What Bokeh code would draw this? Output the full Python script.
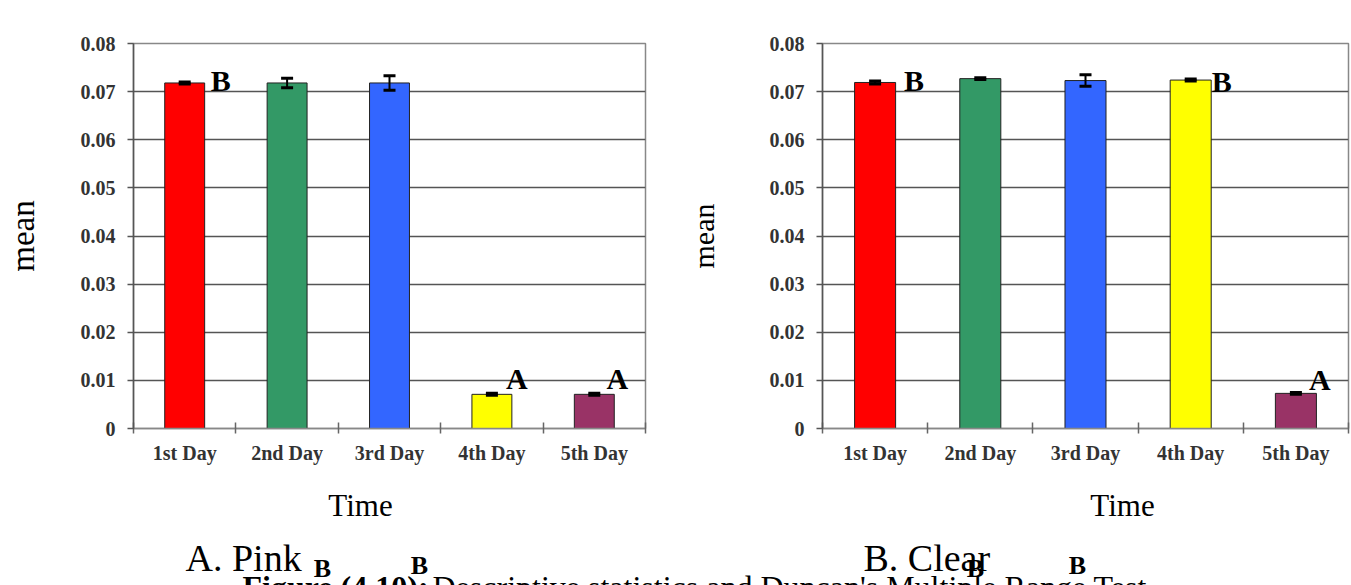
from bokeh.plotting import figure
from bokeh.models import (ColumnDataSource, Range1d, FixedTicker, CustomJSTickFormatter,
                          Whisker, TeeHead, Label)
from bokeh.layouts import column, row
from bokeh.embed import file_html
from bokeh.resources import INLINE
from bokeh.core.properties import value

# ---------------- data ----------------
days = ["1st Day", "2nd Day", "3rd Day", "4th Day", "5th Day"]
bar_colors = ["#FF0000", "#339966", "#3366FF", "#FFFF00", "#993366"]

pink_mean = [0.0718, 0.0718, 0.0718, 0.0071, 0.0071]
pink_err = [0.0002, 0.0010, 0.0015, 0.0002, 0.0002]
pink_letters = ["B", "", "", "A", "A"]

clear_mean = [0.0719, 0.0727, 0.0723, 0.0724, 0.0073]
clear_err = [0.0003, 0.0002, 0.0012, 0.0002, 0.0002]
clear_letters = ["B", "", "", "B", "A"]

y_ticks = [0.0, 0.01, 0.02, 0.03, 0.04, 0.05, 0.06, 0.07, 0.08]
y_label = "mean"
x_label = "Time"
panel_titles = ["A. Pink", "B. Clear"]
caption_bold = "Figure (4.10):"
caption_text = "Descriptive statistics and Duncan's Multiple Range Test"

# ---------------- layout / style constants ----------------
SERIF = value("Liberation Serif")
FIG_H = 472

# letter pixel offsets relative to bar top (dx right, dy down)
pink_letter_dx = [36, 0, 0, 25, 23]
pink_letter_dy = [-2, 0, 0, -16, -16]
clear_letter_dx = [39, 0, 0, 31, 24]
clear_letter_dy = [-2, 0, 0, 1, -14]


def make_chart(means, errs, letters, ldx, ldy, width, border_left, border_right,
               ylab_size, ylab_standoff):
    p = figure(width=width, height=FIG_H, output_backend="svg", toolbar_location=None,
               x_range=Range1d(0, len(days)), y_range=Range1d(0, 0.08),
               min_border_left=border_left, min_border_right=border_right,
               min_border_top=43, min_border_bottom=FIG_H - 428)
    p.background_fill_color = "white"
    p.border_fill_color = "white"
    p.outline_line_color = "#888888"
    p.outline_line_width = 1.5

    xs = [i + 0.5 for i in range(len(days))]
    src = ColumnDataSource(dict(
        x=xs, top=means, color=bar_colors,
        upper=[m + e for m, e in zip(means, errs)],
        lower=[m - e for m, e in zip(means, errs)],
        letters=letters, dx=ldx, dy=ldy,
    ))
    p.vbar(x="x", top="top", bottom=0, width=0.39, fill_color="color",
           line_color="#222222", line_width=1, source=src)

    wh = Whisker(source=src, base="x", upper="upper", lower="lower", dimension="height",
                 line_color="black", line_width=2, level="overlay",
                 upper_head=TeeHead(size=12, line_width=3, line_color="black"),
                 lower_head=TeeHead(size=12, line_width=3, line_color="black"))
    p.add_layout(wh)

    p.text(x="x", y="top", text="letters", x_offset="dx", y_offset="dy", source=src,
           text_font=SERIF, text_font_style="bold", text_font_size="30px",
           text_align="center", text_baseline="middle", text_color="black")

    # y axis
    yax = p.yaxis[0]
    yax.ticker = FixedTicker(ticks=y_ticks, minor_ticks=[])
    yax.formatter = CustomJSTickFormatter(code="return tick < 1e-9 ? '0' : tick.toFixed(2);")
    yax.major_tick_in = 0
    yax.major_tick_out = 6
    yax.minor_tick_line_color = None
    yax.axis_line_color = "#555555"
    yax.axis_line_width = 1.5
    yax.major_tick_line_color = "#555555"
    yax.major_tick_line_width = 1.5
    yax.major_label_standoff = 12
    yax.major_label_text_font = "Liberation Serif"
    yax.major_label_text_font_style = "bold"
    yax.major_label_text_font_size = "20px"
    yax.major_label_text_color = "#333333"
    yax.axis_label = y_label
    yax.axis_label_text_font = "Liberation Serif"
    yax.axis_label_text_font_style = "normal"
    yax.axis_label_text_font_size = ylab_size
    yax.axis_label_text_color = "black"
    yax.axis_label_standoff = ylab_standoff

    # x axis: labels at category centres, ticks at category boundaries
    xax = p.xaxis[0]
    xax.ticker = FixedTicker(ticks=xs, minor_ticks=list(range(len(days) + 1)))
    xax.major_label_overrides = {x: d for x, d in zip(xs, days)}
    xax.major_tick_line_color = None
    xax.minor_tick_in = 6
    xax.minor_tick_out = 5
    xax.minor_tick_line_color = "#666666"
    xax.minor_tick_line_width = 1.5
    xax.axis_line_color = "#888888"
    xax.axis_line_width = 1.5
    xax.major_label_standoff = 7
    xax.major_label_text_font = "Liberation Serif"
    xax.major_label_text_font_style = "bold"
    xax.major_label_text_font_size = "20px"
    xax.major_label_text_color = "#333333"

    p.xgrid.visible = False
    p.ygrid.grid_line_color = "#555555"
    p.ygrid.grid_line_width = 1.3
    return p


p1 = make_chart(pink_mean, pink_err, pink_letters, pink_letter_dx, pink_letter_dy,
                width=680, border_left=133, border_right=35, ylab_size="33px",
                ylab_standoff=37)
p2 = make_chart(clear_mean, clear_err, clear_letters, clear_letter_dx, clear_letter_dy,
                width=671, border_left=142, border_right=3, ylab_size="30px",
                ylab_standoff=47)

# ---------------- caption strip (axis titles below, panel titles, figure caption) ----------------
CAP_H = 585 - FIG_H
cap = figure(width=1351, height=CAP_H, output_backend="svg", toolbar_location=None,
             x_range=Range1d(0, 1351), y_range=Range1d(CAP_H, 0),
             x_axis_type=None, y_axis_type=None, min_border=0)
cap.outline_line_color = None
cap.background_fill_color = "white"
cap.border_fill_color = "white"


def cap_label(x, y_screen, text, size, bold=False, align="left"):
    cap.add_layout(Label(x=x, y=y_screen - FIG_H, text=text, text_font="Liberation Serif",
                         text_font_size=size, text_font_style="bold" if bold else "normal",
                         text_align=align, text_baseline="alphabetic", text_color="black"))


cap_label(360, 505, x_label, "31px", align="center")
cap_label(1122, 505, x_label, "31px", align="center")
cap_label(185, 557, panel_titles[0], "38px")
cap_label(322, 568, "B", "26px", bold=True, align="center")
cap_label(419, 565, "B", "26px", bold=True, align="center")
cap_label(863, 557, panel_titles[1], "38px")
cap_label(975, 568, "B", "26px", bold=True, align="center")
cap_label(1077, 565, "B", "26px", bold=True, align="center")
cap_label(242, 586, caption_bold, "32px", bold=True)
cap_label(432, 586, caption_text, "32px")

layout = column(row(p1, p2), cap)
open("out.html", "w").write(file_html(layout, INLINE))
